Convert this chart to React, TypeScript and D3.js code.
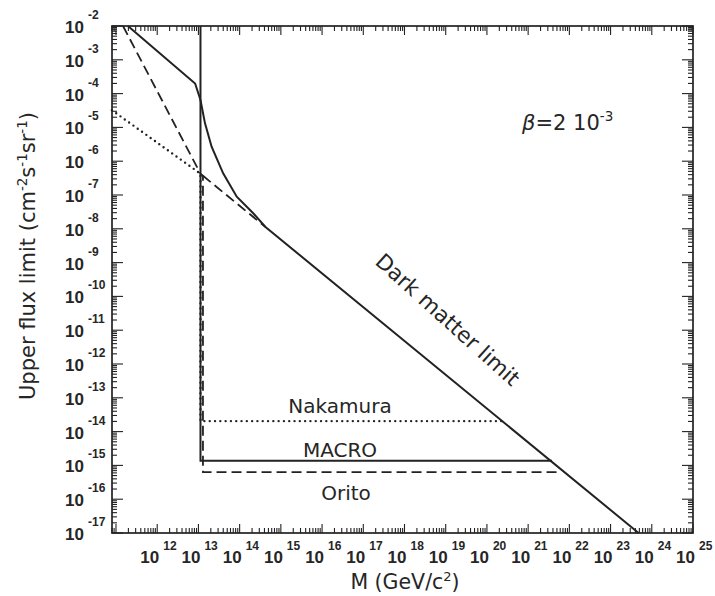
import React from "react";
import * as d3 from "d3";

const W = 715;
const H = 596;

// axis domains
const massDomain: [number, number] = [8e10, 1e25];
const fluxDomain: [number, number] = [1e-17, 1e-2];

// tick label exponents
const xLabelExps = [12, 13, 14, 15, 16, 17, 18, 19, 20, 21, 22, 23, 24, 25];
const yLabelExps = [-2, -3, -4, -5, -6, -7, -8, -9, -10, -11, -12, -13, -14, -15, -16, -17];

// series: log10(M [GeV/c^2]) and log10(flux [cm^-2 s^-1 sr^-1])
// upper solid curve joining the dark matter limit
const upperLogM = [11.29, 12.92, 13.05, 13.16, 13.32, 13.6, 13.93, 14.33, 14.62, 23.68];
const upperLogF = [-2, -3.7, -4.19, -4.88, -5.57, -6.36, -7.05, -7.54, -7.94, -17];
// MACRO (solid)
const macroLogM = [13.05, 13.05, 21.58];
const macroLogF = [-2, -14.86, -14.86];
// Nakamura (dotted)
const nakamuraLogM = [10.9, 13.05, 13.05, 20.37];
const nakamuraLogF = [-4.49, -6.37, -13.69, -13.69];
// Orito (dashed)
const oritoLogM = [11.17, 13.05, 13.11, 13.11, 21.7];
const oritoLogF = [-2, -6.37, -6.43, -15.2, -15.2];
const oritoDmLogM = [13.11, 14.62];
const oritoDmLogF = [-6.43, -7.94];

const INK = "#222";
const TXT = "#262626";

export default function App() {
  const x = d3.scaleLog().domain(massDomain).range([112, 693]);
  const y = d3.scaleLog().domain(fluxDomain).range([533, 26]);
  const x0 = 112, x1 = 693, y0 = 533, y1 = 26;

  const zip = (a: number[], b: number[]) => a.map((v, i) => [v, b[i]] as [number, number]);
  const line = d3
    .line<[number, number]>()
    .x((d) => x(Math.pow(10, d[0])))
    .y((d) => y(Math.pow(10, d[1])));

  // ticks
  const xTicks: { v: number; major: boolean }[] = [];
  for (let d = 10; d <= 25; d++) {
    for (let k = 1; k <= 9; k++) {
      const v = k * Math.pow(10, d);
      if (v >= massDomain[0] * 0.9999 && v <= massDomain[1] * 1.0001) xTicks.push({ v, major: k === 1 });
    }
  }
  const yTicks: { v: number; major: boolean }[] = [];
  for (let d = -17; d <= -2; d++) {
    for (let k = 1; k <= 9; k++) {
      const v = k * Math.pow(10, d);
      if (v >= fluxDomain[0] * 0.9999 && v <= fluxDomain[1] * 1.0001) yTicks.push({ v, major: k === 1 });
    }
  }
  const MAJ = 9, MIN = 5;

  // dark matter label placement along its line
  const dmX = x(1e19);
  const dmY = y(Math.pow(10, -12.33));
  const dmAngle = 42;

  return (
    <svg
      width={W}
      height={H}
      viewBox={`0 0 ${W} ${H}`}
      style={{ position: "absolute", left: 0, top: 0, background: "#fff" }}
    >
      <rect x={0} y={0} width={W} height={H} fill="#fff" />
      {/* frame */}
      <rect x={x0} y={y1} width={x1 - x0} height={y0 - y1} fill="none" stroke={INK} strokeWidth={1.7} />
      {/* ticks */}
      <g stroke={INK} strokeWidth={1.1}>
        {xTicks.map((t, i) => {
          const px = x(t.v);
          const L = t.major ? MAJ : MIN;
          return (
            <g key={"xt" + i}>
              <line x1={px} x2={px} y1={y0} y2={y0 - L} />
              <line x1={px} x2={px} y1={y1} y2={y1 + L} />
            </g>
          );
        })}
        {yTicks.map((t, i) => {
          const py = y(t.v);
          const L = t.major ? MAJ + 2 : MIN;
          return (
            <g key={"yt" + i}>
              <line x1={x0} x2={x0 + L} y1={py} y2={py} />
              <line x1={x1} x2={x1 - L} y1={py} y2={py} />
            </g>
          );
        })}
      </g>
      {/* tick labels */}
      <g fill={TXT} fontFamily="'Liberation Sans', Arial, sans-serif" fontWeight="bold">
        {xLabelExps.map((e) => {
          const px = x(Math.pow(10, e));
          return (
            <g key={"xl" + e}>
              <text x={px + 2} y={563} fontSize={17} textAnchor="end">10</text>
              <text x={px + 6} y={550} fontSize={12}>{e}</text>
            </g>
          );
        })}
        {yLabelExps.map((e) => {
          const py = y(Math.pow(10, e));
          return (
            <g key={"yl" + e}>
              <text x={84} y={py + 7} fontSize={17} textAnchor="end">10</text>
              <text x={88} y={py - 7} fontSize={12}>{e}</text>
            </g>
          );
        })}
      </g>
      {/* curves */}
      <g fill="none" stroke={INK}>
        <path d={line(zip(upperLogM, upperLogF)) || ""} strokeWidth={2} />
        <path d={line(zip(macroLogM, macroLogF)) || ""} strokeWidth={2} />
        <path
          d={line(zip(nakamuraLogM, nakamuraLogF)) || ""}
          strokeWidth={2.4}
          strokeDasharray="0 5.3"
          strokeLinecap="round"
        />
        <path d={line(zip(oritoLogM, oritoLogF)) || ""} strokeWidth={1.8} strokeDasharray="10 5" />
        <path d={line(zip(oritoDmLogM, oritoDmLogF)) || ""} strokeWidth={1.8} strokeDasharray="10 5" />
      </g>
      {/* annotations */}
      <g fill={TXT} fontFamily="'DejaVu Sans', sans-serif">
        <text x={340} y={413} fontSize={20} textAnchor="middle">Nakamura</text>
        <text x={340} y={457} fontSize={20} textAnchor="middle">MACRO</text>
        <text x={346} y={500} fontSize={20} textAnchor="middle">Orito</text>
        <text
          x={0}
          y={0}
          fontSize={21.5}
          textAnchor="middle"
          transform={`translate(${dmX - 3},${dmY - 50}) rotate(${dmAngle})`}
        >
          Dark matter limit
        </text>
        <text x={522} y={130} fontSize={21}>
          <tspan fontStyle="italic">β</tspan>=2 10
          <tspan fontSize={13.5} dy={-9}>-3</tspan>
        </text>
        {/* axis titles */}
        <text x={405} y={589} fontSize={20.5} textAnchor="middle">
          M (GeV/c<tspan fontSize={13} dy={-8}>2</tspan>
          <tspan dy={8}>)</tspan>
        </text>
        <text x={0} y={0} fontSize={21} textAnchor="middle" transform={`translate(35,256) rotate(-90)`}>
          Upper flux limit (cm<tspan fontSize={13.5} dy={-8}>-2</tspan>
          <tspan dy={8}>s</tspan>
          <tspan fontSize={13.5} dy={-8}>-1</tspan>
          <tspan dy={8}>sr</tspan>
          <tspan fontSize={13.5} dy={-8}>-1</tspan>
          <tspan dy={8}>)</tspan>
        </text>
      </g>
    </svg>
  );
}
